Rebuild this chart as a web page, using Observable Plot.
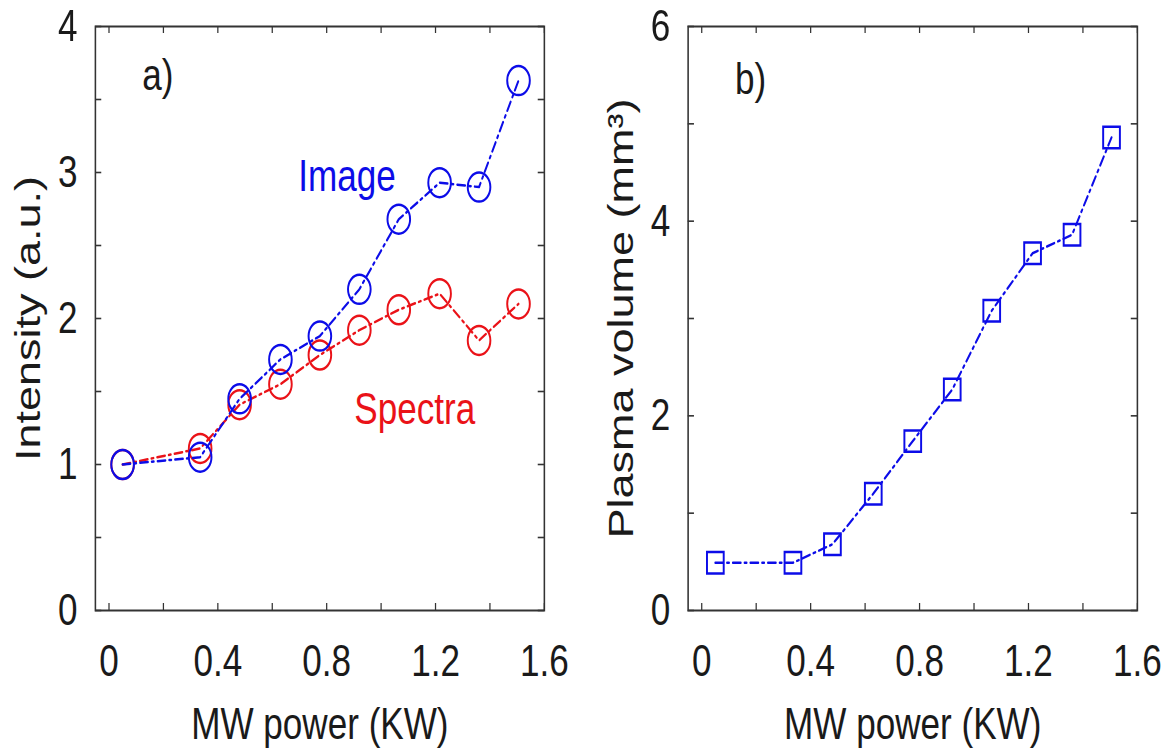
<!DOCTYPE html>
<html><head><meta charset="utf-8">
<script src="https://cdn.jsdelivr.net/npm/d3@7"></script>
<script src="https://cdn.jsdelivr.net/npm/@observablehq/plot@0.6"></script>
<style>
html,body{margin:0;padding:0;background:#fff;overflow:hidden;}
#fig{display:flex;width:1497px;transform:scaleX(0.78);transform-origin:0 0;}
#fig svg{flex:none;}
</style></head><body><div id="fig"></div>
<script>
// ---- data ----
const power = [0.05, 0.335, 0.48, 0.63, 0.775, 0.92, 1.065, 1.215, 1.36, 1.505];
const imageIntensity   = [1.0, 1.05, 1.45, 1.72, 1.88, 2.20, 2.68, 2.93, 2.90, 3.63];
const spectraIntensity = [1.0, 1.11, 1.41, 1.55, 1.75, 1.92, 2.06, 2.17, 1.85, 2.10];
const plasmaVolume     = [0.49, 0.49, 0.68, 1.20, 1.74, 2.27, 3.08, 3.67, 3.86, 4.86];
const xTickLabels = [0, 0.4, 0.8, 1.2, 1.6];
const xTicks = [0, 0.2, 0.4, 0.6, 0.8, 1.0, 1.2, 1.4, 1.6];
const yTicksA = [0, 0.5, 1, 1.5, 2, 2.5, 3, 3.5, 4];
const yTickLabelsA = [0, 1, 2, 3, 4];
const yTicksB = [0, 1, 2, 3, 4, 5, 6];
const yTickLabelsB = [0, 2, 4, 6];

// ---- styling ----
const FONT = "'Liberation Sans', Arial, Helvetica, sans-serif";
const BLUE = "#0c0ce8", RED = "#ea1218", INK = "#1a1a1a", FRAME = "#333";
const H = 753, MT = 26, MB = 143, FS = 45;
const DASH = "10,5,2.5,5";
const fmt = d => String(d);

function panel({width, marginLeft, marginRight, yDomain, yTicks, yTickLabels, yLabel, tag, tagDy, series}) {
  const innerW = width - marginLeft - marginRight;
  const innerH = H - MT - MB;
  const marks = [
    Plot.frame({stroke: FRAME, strokeWidth: 2}),
    Plot.tickX(xTicks, {x: d => d, insetTop: innerH - 7, stroke: FRAME, strokeWidth: 1.6}),
    Plot.tickX(xTicks, {x: d => d, insetBottom: innerH - 7, stroke: FRAME, strokeWidth: 1.6}),
    Plot.tickY(yTicks, {y: d => d, insetRight: innerW - 8, stroke: FRAME, strokeWidth: 1.6}),
    Plot.tickY(yTicks, {y: d => d, insetLeft: innerW - 8, stroke: FRAME, strokeWidth: 1.6}),
    Plot.axisX(xTickLabels, {tickSize: 0, tickPadding: 34, fontSize: FS, label: null, fill: INK, tickFormat: fmt}),
    Plot.axisY(yTickLabels, {tickSize: 0, tickPadding: 23, fontSize: FS, label: null, fill: INK, tickFormat: fmt}),
    Plot.text(["MW power (KW)"], {frameAnchor: "bottom", lineAnchor: "bottom", dy: 128, fontSize: FS, fill: INK}),
    Plot.text([yLabel], {frameAnchor: "left", rotate: -90, lineAnchor: "bottom", textAnchor: "middle", dx: -71, fontSize: FS, fill: INK}),
    Plot.text([tag], {frameAnchor: "top-left", textAnchor: "start", lineAnchor: "bottom", dx: 60, dy: tagDy, fontSize: FS, fill: INK}),
    ...series
  ];
  return Plot.plot({
    width, height: H, marginTop: MT, marginBottom: MB, marginLeft, marginRight,
    x: {domain: [-0.05, 1.6]},
    y: {domain: yDomain},
    style: {fontFamily: FONT, fontSize: FS + "px", color: INK, background: "white", overflow: "visible"},
    marks
  });
}

const rowsA = power.map((p, i) => ({p, image: imageIntensity[i], spectra: spectraIntensity[i]}));
const rowsB = power.map((p, i) => ({p, v: plasmaVolume[i]}));

const plotA = panel({
  width: 760, marginLeft: 121.8, marginRight: 62.6,
  yDomain: [0, 4], yTicks: yTicksA, yTickLabels: yTickLabelsA,
  yLabel: "Intensity (a.u.)", tag: "a)", tagDy: 63,
  series: [
    Plot.line(rowsA, {x: "p", y: "spectra", stroke: RED, strokeWidth: 2.5, strokeDasharray: DASH}),
    Plot.dot(rowsA, {x: "p", y: "spectra", r: 14.5, stroke: RED, strokeWidth: 2.5, fill: "none"}),
    Plot.line(rowsA, {x: "p", y: "image", stroke: BLUE, strokeWidth: 2.5, strokeDasharray: DASH}),
    Plot.dot(rowsA, {x: "p", y: "image", r: 14.5, stroke: BLUE, strokeWidth: 2.5, fill: "none"}),
    Plot.text(["Image"], {frameAnchor: "top-left", textAnchor: "start", lineAnchor: "bottom", dx: 260, dy: 164, fontSize: FS, fill: BLUE}),
    Plot.text(["Spectra"], {frameAnchor: "top-left", textAnchor: "start", lineAnchor: "bottom", dx: 332, dy: 397, fontSize: FS, fill: RED})
  ]
});

const plotB = panel({
  width: 737, marginLeft: 121.7, marginRight: 39.3,
  yDomain: [0, 6], yTicks: yTicksB, yTickLabels: yTickLabelsB,
  yLabel: "Plasma volume (mm³)", tag: "b)", tagDy: 67,
  series: [
    Plot.line(rowsB, {x: "p", y: "v", stroke: BLUE, strokeWidth: 2.5, strokeDasharray: DASH}),
    Plot.dot(rowsB, {x: "p", y: "v", symbol: "square", r: 12.1, stroke: BLUE, strokeWidth: 2.5, fill: "none"})
  ]
});

const fig = document.getElementById("fig");
fig.appendChild(plotA);
fig.appendChild(plotB);
</script>
</body></html>
